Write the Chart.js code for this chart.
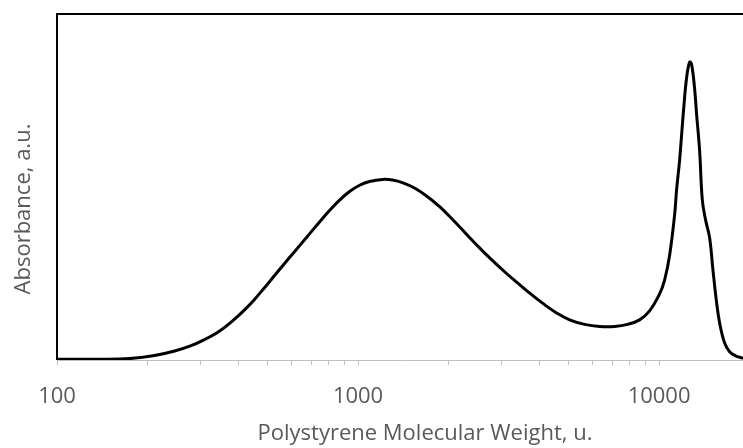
<!DOCTYPE html>
<html>
<head>
<meta charset="utf-8">
<script src="https://cdn.jsdelivr.net/npm/chart.js@4.4.0/dist/chart.umd.min.js"></script>
<style>
  html, body { margin: 0; padding: 0; background: #fff; }
  #wrap { width: 743px; height: 448px; }
</style>
</head>
<body>
<div id="wrap"><canvas id="chart"></canvas></div>
<script>
// molecular weight (u) and absorbance (a.u., 0-100)
const molWeight = [
  100, 138, 174, 211, 246, 276, 309, 347, 389, 420, 453, 489, 528, 570,
  615, 674, 745, 804, 868, 937, 1012, 1092, 1206, 1302, 1410, 1540, 1689,
  1866, 2061, 2294, 2533, 2798, 3114, 3440, 3771, 4165, 4565, 5043, 5656,
  6345, 7117, 7861, 8613, 9299, 10040, 10430, 10840, 11260, 11430, 11700,
  12060, 12340, 12630, 12820, 13120, 13320, 13630, 13920, 14270, 14720,
  15100, 15490, 15890, 16510, 17150, 17960, 18800, 19000
];
const absorbance = [
  0.2, 0.2, 0.4, 1.3, 2.6, 4.0, 5.9, 8.4, 11.8, 14.5, 17.5, 20.9, 24.4, 27.9,
  31.3, 35.4, 39.9, 43.2, 46.2, 48.7, 50.5, 51.6, 52.2, 52.0, 51.2, 49.7, 47.4,
  44.3, 40.6, 36.3, 32.4, 28.7, 25.0, 21.8, 18.9, 16.0, 13.6, 11.6, 10.3,
  9.7, 9.7, 10.3, 11.6, 14.2, 19.1, 23.1, 30.3, 41.9, 49.1, 57.8,
  72.3, 81.5, 86.1, 85.5, 78.5, 71.1, 60.7, 46.2, 40.5, 35.3,
  26.0, 17.3, 10.7, 4.9, 2.4, 1.2, 0.6, 0.5
];
const majorTicks = [100, 1000, 10000];
const tickLabels = ["100", "1000", "10000"];

const xMin = 100;
const xMax = 19000;
const textColor = "#595959";
const fontFamily = "'Open Sans', sans-serif";

const axisTitles = {
  id: "axisTitles",
  afterDraw(chart) {
    const ctx = chart.ctx;
    const area = chart.chartArea;
    ctx.save();
    // plot frame: black top and left edges
    ctx.strokeStyle = "#000";
    ctx.lineWidth = 2;
    ctx.beginPath();
    ctx.moveTo(area.left, area.bottom);
    ctx.lineTo(area.left, area.top);
    ctx.lineTo(area.right + 2, area.top);
    ctx.stroke();

    ctx.fillStyle = textColor;
    ctx.font = "22px " + fontFamily;
    ctx.textAlign = "center";
    ctx.textBaseline = "middle";
    ctx.fillText("Polystyrene Molecular Weight, u.", 425, 434);

    ctx.translate(24, 209);
    ctx.rotate(-Math.PI / 2);
    ctx.fillText("Absorbance, a.u.", 0, 0);
    ctx.restore();
  },
};

new Chart(document.getElementById("chart"), {
  type: "line",
  data: {
    datasets: [
      {
        data: molWeight.map((m, i) => ({ x: m, y: absorbance[i] })),
        borderColor: "#000",
        borderWidth: 3,
        pointRadius: 0,
        tension: 0.4,
        fill: false,
      },
    ],
  },
  options: {
    responsive: true,
    maintainAspectRatio: false,
    animation: false,
    layout: { padding: { left: 57, top: 14, right: 0, bottom: 0 } },
    plugins: {
      legend: { display: false },
      tooltip: { enabled: false },
    },
    scales: {
      x: {
        type: "logarithmic",
        min: xMin,
        max: xMax,
        afterBuildTicks(scale) {
          const ticks = [];
          for (let d = 100; d <= 10000; d *= 10) {
            for (let k = 1; k <= 9; k++) {
              const v = d * k;
              if (v >= xMin && v <= xMax) ticks.push({ value: v });
            }
          }
          scale.ticks = ticks;
        },
        afterFit(scale) {
          scale.height = 88;
        },
        ticks: {
          autoSkip: false,
          maxRotation: 0,
          padding: 19,
          color: textColor,
          font: { family: fontFamily, size: 22 },
          callback(value) {
            const idx = majorTicks.indexOf(value);
            return idx >= 0 ? tickLabels[idx] : "";
          },
        },
        grid: {
          drawOnChartArea: false,
          drawTicks: true,
          tickLength: 5,
          color: "#bfbfbf",
        },
        border: { color: "#bfbfbf", width: 1 },
      },
      y: {
        display: false,
        min: 0,
        max: 100,
      },
    },
  },
  plugins: [axisTitles],
});
</script>
</body>
</html>
